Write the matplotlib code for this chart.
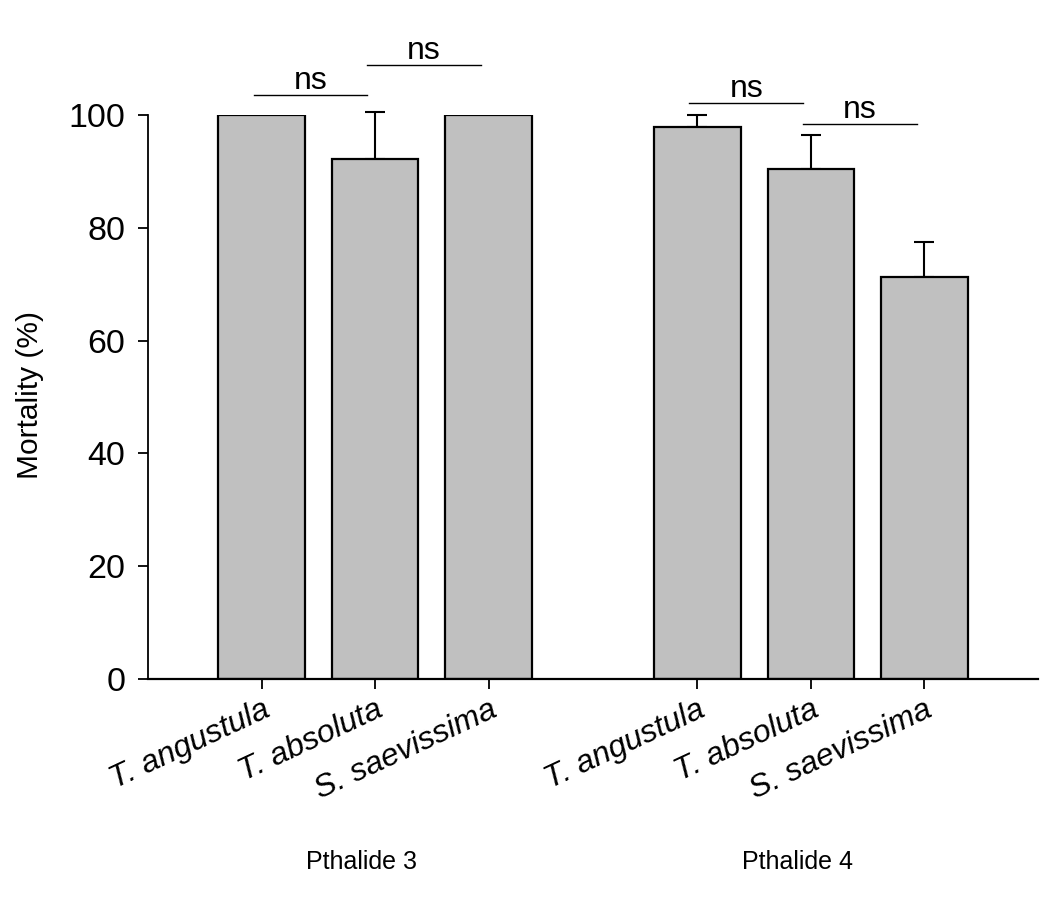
import matplotlib
matplotlib.use("Agg")
import matplotlib.pyplot as plt
import numpy as np

plt.rcParams['font.family'] = ['Liberation Sans', 'DejaVu Sans']

species = ["T. angustula", "T. absoluta", "S. saevissima"]
groups = ["Pthalide 3", "Pthalide 4"]
mort_p3 = [100.0, 92.2, 100.0]
err_p3 = [0.0, 8.3, 0.0]
mort_p4 = [97.9, 90.5, 71.2]
err_p4 = [2.1, 5.9, 6.3]
ns_labels = ["ns", "ns", "ns", "ns"]
ns_heights = [103.6, 108.9, 102.2, 98.4]

fig = plt.figure(figsize=(10.53, 8.99), dpi=100)
ax = fig.add_axes([148/1053, 1-679/899, (1038-148)/1053, (679-115)/899])

pos3 = np.array([0.0, 1.0, 2.0])
pos4 = pos3 + 3.84
positions = np.concatenate([pos3, pos4])
values = mort_p3 + mort_p4
errs = err_p3 + err_p4

width = 0.76
ax.bar(positions, values, width=width, color="#c0c0c0", edgecolor="black", linewidth=1.6, zorder=2)
for x, v, e in zip(positions, values, errs):
    if e > 0:
        cont = ax.errorbar([x], [v], yerr=[[0], [e]], fmt="none", ecolor="black",
                           elinewidth=1.5, capsize=7.5, capthick=1.5, zorder=1)
        for art in cont.get_children():
            art.set_clip_on(False)

ax.set_xlim(-1.0, 6.84)
ax.set_ylim(0, 100)
ax.set_yticks([0, 20, 40, 60, 80, 100])
ax.tick_params(axis="y", direction="out", length=7.2, width=1.3, labelsize=24.5, pad=9)
ax.tick_params(axis="x", direction="out", length=7.2, width=1.3, labelsize=23, pad=4)
ax.set_xticks(positions)
ax.set_xticklabels(species * 2, rotation=25, ha="right", va="top", rotation_mode="anchor", style="italic")
for s in ["top", "right"]:
    ax.spines[s].set_visible(False)
ax.spines["left"].set_linewidth(1.3)
ax.spines["bottom"].set_linewidth(1.6)

fig.text(30/1053, 1-395/899, "Mortality (%)", rotation=90, ha="center", va="center", fontsize=21.5)

# ns comparisons: pairs (0,1), (1,2) in each group
pairs = [(pos3[0], pos3[1]), (pos3[1], pos3[2]), (pos4[0], pos4[1]), (pos4[1], pos4[2])]
for (a, b), h, lab in zip(pairs, ns_heights, ns_labels):
    x1 = a - 0.07
    x2 = b - 0.07
    ax.plot([x1, x2], [h, h], color="black", linewidth=1.0, clip_on=False)
    ax.text((x1 + x2) / 2, h + 1.0, lab, ha="center", va="baseline", fontsize=23, clip_on=False)

# group labels
fig.text(362/1053, 1-862/899, groups[0], ha="center", va="center", fontsize=18)
fig.text(797/1053, 1-862/899, groups[1], ha="center", va="center", fontsize=18)

fig.savefig("out.png", dpi=100, facecolor="white")
